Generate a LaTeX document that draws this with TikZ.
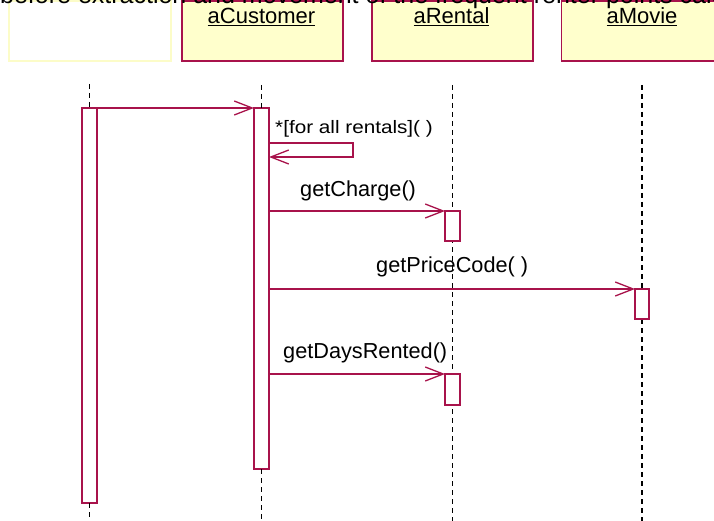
\documentclass[tikz,border=0pt]{standalone}
\usepackage{fontspec}
\setmainfont{Liberation Sans}
\usetikzlibrary{arrows.meta}
\definecolor{umlred}{HTML}{A8134B}
\definecolor{umlfill}{HTML}{FFFFCC}
\definecolor{paleedge}{HTML}{FCFCC8}
\begin{document}
\begin{tikzpicture}[x=1pt,y=-1pt,
  header/.style={draw=umlred, fill=umlfill, line width=1.5pt, minimum width=161pt,
    minimum height=60pt, inner sep=0pt, outer sep=0pt},
  act/.style={draw=umlred, fill=white, line width=1.5pt, minimum width=15pt,
    inner sep=0pt, outer sep=0pt},
  life/.style={black, line width=1.5pt, dash pattern=on 5pt off 4pt},
  msg/.style={umlred, line width=1.3pt, -{Straight Barb[length=18pt,width=14pt]}},
  lbl/.style={font=\fontsize{21.7}{26}\selectfont, anchor=base west, inner sep=0pt},
  hlbl/.style={font=\fontsize{22}{26}\selectfont, anchor=base, inner sep=0pt},
]
\useasboundingbox (0,0) rectangle (714,521);
\clip (0,0) rectangle (714,521);

% object headers
\node[header, draw=paleedge, fill=white, minimum width=162pt] (hblank) at (90,31) {};
\node[header] (hcust) at (262.5,31) {};
\node[header] (hrent) at (452.5,31) {};
\node[header] (hmov)  at (642,31) {};

% note running across the top
\node[anchor=base west, inner sep=0pt, font=\fontsize{25}{30}\selectfont] (note) at (0,4)
  {before extraction and movement of the frequent renter points calculation};

\node[hlbl] (tcust) at (261.5,24) {\underline{aCustomer}};
\node[hlbl] (trent) at (451.5,24) {\underline{aRental}};
\node[hlbl] (tmov)  at (642,24)   {\underline{aMovie}};

% lifeline tops and bottoms
\coordinate (lLtop) at (89.5,84);
\coordinate (lLbot) at (89.5,521);
\coordinate (lCtop) at (261.5,85);
\coordinate (lCbot) at (261.5,521);
\coordinate (lRtop) at (452.5,85);
\coordinate (lRbot) at (452.5,521);
\coordinate (lMtop) at (642,85);
\coordinate (lMbot) at (642,521);

\draw[life] (lRtop) -- (lRbot);
\draw[life] (lMtop) -- (lMbot);

% activation bars
\node[act, minimum height=395pt] (actL) at (89.5,305.5) {};
\node[act, minimum height=361pt] (actC) at (261.5,288.5) {};
\node[act, minimum height=30pt] (actR1) at (452.5,226) {};
\node[act, minimum height=30pt, minimum width=14pt] (actM) at (642,304) {};
\node[act, minimum height=31pt] (actR2) at (452.5,389.5) {};

\draw[life] (lLtop) -- (actL.north);
\draw[life] (actL.south) -- (lLbot);
\draw[life] (lCtop) -- (actC.north);
\draw[life] (actC.south) -- (lCbot);

% messages
\draw[msg] (actL.north east) -- (actC.north west);

\coordinate (selfR) at (353,150);
\draw[msg] (actC.east |- 0,143) -| (selfR) |- (actC.east |- 0,157);
\node[anchor=base west, inner sep=0pt, font=\fontsize{18}{22}\selectfont] (lself) at (275,134)
  {\scalebox{1.15}[1]{*[for all rentals]( )}};

\draw[msg] (actC.east |- actR1.north) -- (actR1.north west);
\node[lbl] (lcharge) at (300,197) {getCharge()};

\draw[msg] (actC.east |- actM.north) -- (actM.north west);
\node[lbl] (lprice) at (376,272) {getPriceCode( )};

\draw[msg] (actC.east |- actR2.north) -- (actR2.north west);
\node[lbl] (ldays) at (283,358) {getDaysRented()};
\end{tikzpicture}
\end{document}
